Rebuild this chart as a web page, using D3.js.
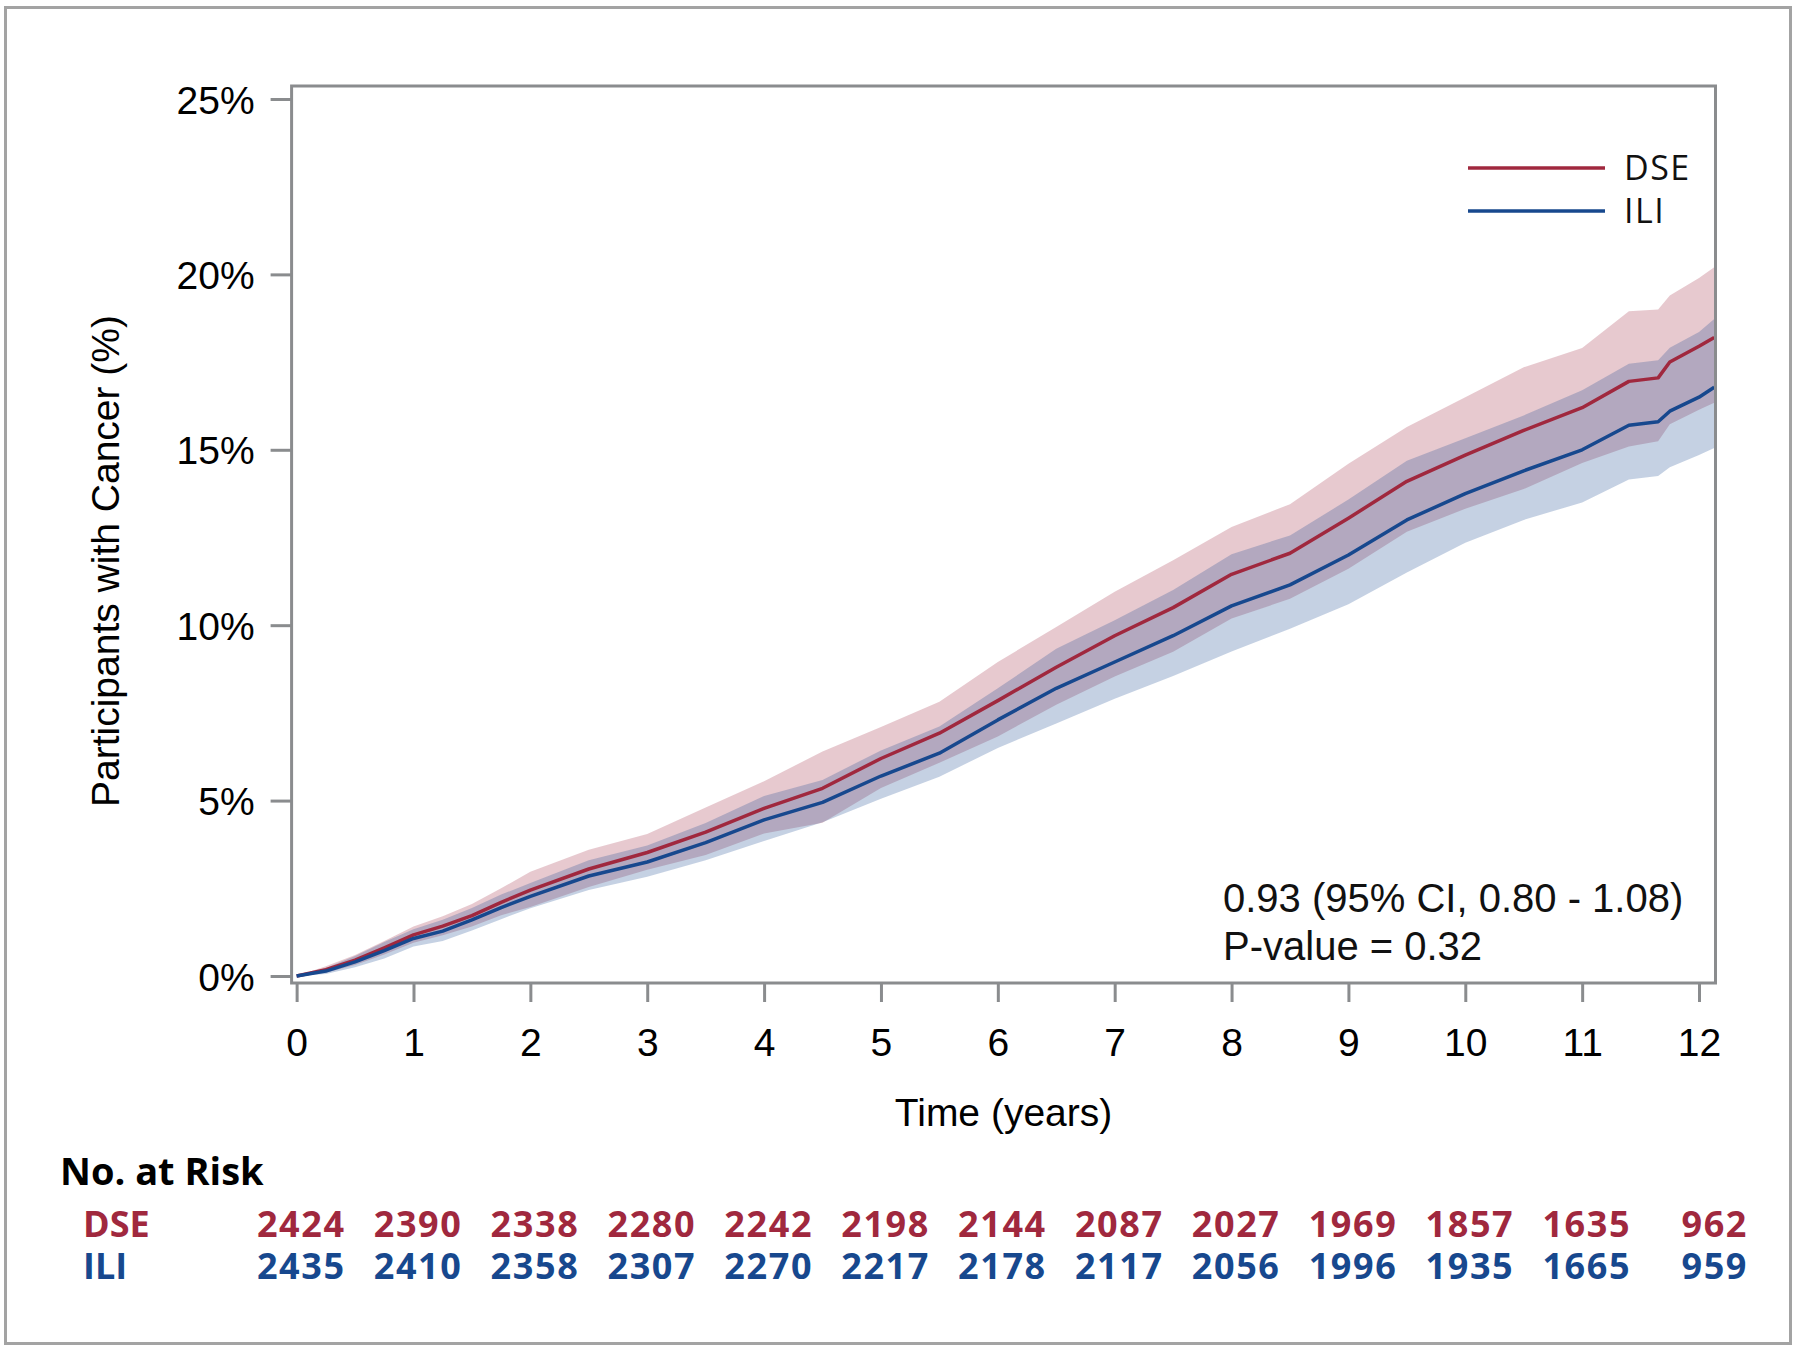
<!DOCTYPE html>
<html>
<head>
<meta charset="utf-8">
<script src="https://cdn.jsdelivr.net/npm/d3@7"></script>
<style>
  html, body { margin: 0; padding: 0; background: #fff; }
  svg { display: block; }
</style>
</head>
<body>
<svg id="chart" width="1800" height="1352"></svg>
<script>
// ---------- data ----------
const times    = [0, 0.25, 0.5, 0.75, 1, 1.25, 1.5, 1.75, 2, 2.5, 3, 3.5, 4, 4.5, 5, 5.5, 6, 6.5, 7, 7.5, 8, 8.5, 9, 9.5, 10, 10.5, 11, 11.4, 11.65, 11.75, 12, 12.13];
const dseEst   = [0, 0.18, 0.45, 0.80, 1.17, 1.42, 1.72, 2.10, 2.45, 3.05, 3.52, 4.10, 4.78, 5.35, 6.20, 6.92, 7.85, 8.80, 9.70, 10.50, 11.45, 12.05, 13.05, 14.10, 14.85, 15.55, 16.20, 16.95, 17.05, 17.50, 17.95, 18.20];
const dseUpper = [0, 0.28, 0.60, 1.00, 1.41, 1.70, 2.05, 2.50, 2.97, 3.60, 4.05, 4.80, 5.55, 6.40, 7.10, 7.82, 8.95, 9.95, 10.95, 11.85, 12.80, 13.45, 14.60, 15.65, 16.50, 17.35, 17.90, 18.95, 19.00, 19.40, 19.90, 20.20];
const dseLower = [0, 0.09, 0.31, 0.61, 0.95, 1.16, 1.41, 1.73, 1.97, 2.54, 3.03, 3.45, 4.06, 4.37, 5.36, 6.08, 6.83, 7.73, 8.54, 9.24, 10.19, 10.75, 11.61, 12.66, 13.32, 13.88, 14.62, 15.09, 15.24, 15.73, 16.14, 16.34];
const iliEst   = [0, 0.14, 0.40, 0.72, 1.07, 1.28, 1.60, 1.95, 2.27, 2.85, 3.25, 3.80, 4.45, 4.95, 5.70, 6.35, 7.30, 8.20, 8.95, 9.70, 10.55, 11.15, 12.00, 13.00, 13.75, 14.40, 15.00, 15.70, 15.80, 16.10, 16.50, 16.78];
const iliUpper = [0, 0.23, 0.57, 0.97, 1.33, 1.60, 1.94, 2.32, 2.65, 3.30, 3.72, 4.36, 5.13, 5.59, 6.43, 7.11, 8.20, 9.33, 10.14, 11.00, 12.02, 12.56, 13.58, 14.69, 15.33, 15.98, 16.70, 17.45, 17.55, 17.91, 18.36, 18.73];
const iliLower = [0, 0.06, 0.25, 0.50, 0.84, 1.00, 1.30, 1.62, 1.93, 2.45, 2.83, 3.30, 3.85, 4.38, 5.05, 5.68, 6.50, 7.20, 7.90, 8.55, 9.25, 9.90, 10.60, 11.50, 12.35, 13.00, 13.50, 14.15, 14.25, 14.50, 14.85, 15.05];

const xTicks = [0, 1, 2, 3, 4, 5, 6, 7, 8, 9, 10, 11, 12];
const yTicks = [0, 5, 10, 15, 20, 25];
const seriesNames = ["DSE", "ILI"];
const riskTimes = [0, 1, 2, 3, 4, 5, 6, 7, 8, 9, 10, 11, 12];
const dseRisk = [2424, 2390, 2338, 2280, 2242, 2198, 2144, 2087, 2027, 1969, 1857, 1635, 962];
const iliRisk = [2435, 2410, 2358, 2307, 2270, 2217, 2178, 2117, 2056, 1996, 1935, 1665, 959];
const annotationLines = ["0.93 (95% CI, 0.80 - 1.08)", "P-value = 0.32"];

// ---------- styling ----------
const RED = "#a0283e", BLUE = "#17488e";
const AX = "#8a8c8e";
const ARIAL = "'Liberation Sans', Arial, sans-serif";
const SANS2 = "'Open Sans', 'Noto Sans', sans-serif";

const svg = d3.select("#chart");

// outer border
svg.append("rect").attr("x", 5.5).attr("y", 7.5).attr("width", 1785).attr("height", 1336)
  .attr("fill", "none").attr("stroke", "#a3a3a3").attr("stroke-width", 3);

const L = 291.6, R = 1715.5, T = 86, B = 983;
const x = d3.scaleLinear().domain([-0.043, 12.141]).range([L, R]);
const y = d3.scaleLinear().domain([-0.2, 25.37]).range([B, T]);

// clip
svg.append("defs").append("clipPath").attr("id", "clip")
  .append("rect").attr("x", L).attr("y", T).attr("width", R - L).attr("height", B - T);

const plot = svg.append("g").attr("clip-path", "url(#clip)");

function bandData(lo, hi) { return times.map((t, i) => ({t, lo: lo[i], hi: hi[i]})); }
function lineData(v) { return times.map((t, i) => ({t, v: v[i]})); }

const area = d3.area().x(d => x(d.t)).y0(d => y(d.lo)).y1(d => y(d.hi));
const line = d3.line().x(d => x(d.t)).y(d => y(d.v));

plot.append("path").datum(bandData(dseLower, dseUpper)).attr("d", area)
  .attr("fill", RED).attr("fill-opacity", 0.25);
plot.append("path").datum(bandData(iliLower, iliUpper)).attr("d", area)
  .attr("fill", BLUE).attr("fill-opacity", 0.25);
plot.append("path").datum(lineData(dseEst)).attr("d", line)
  .attr("fill", "none").attr("stroke", RED).attr("stroke-width", 3.5).attr("stroke-linejoin", "round");
plot.append("path").datum(lineData(iliEst)).attr("d", line)
  .attr("fill", "none").attr("stroke", BLUE).attr("stroke-width", 3.5).attr("stroke-linejoin", "round");

// frame
svg.append("rect").attr("x", L).attr("y", T).attr("width", R - L).attr("height", B - T)
  .attr("fill", "none").attr("stroke", AX).attr("stroke-width", 3);

// x axis
const xAxis = d3.axisBottom(x).tickValues(xTicks).tickSize(19).tickPadding(26).tickFormat(d3.format("d"));
const gx = svg.append("g").attr("transform", `translate(0,${B})`).call(xAxis);
gx.select(".domain").remove();
gx.selectAll(".tick line").attr("stroke", AX).attr("stroke-width", 3);
gx.selectAll(".tick text").attr("font-family", ARIAL).attr("font-size", 39).attr("fill", "#000")
  .attr("dy", "0.71em");

// y axis
const yAxis = d3.axisLeft(y).tickValues(yTicks).tickSize(21).tickPadding(16).tickFormat(d => d + "%");
const gy = svg.append("g").attr("transform", `translate(${L},0)`).call(yAxis);
gy.select(".domain").remove();
gy.selectAll(".tick line").attr("stroke", AX).attr("stroke-width", 3);
gy.selectAll(".tick text").attr("font-family", ARIAL).attr("font-size", 39).attr("fill", "#000")
  .attr("dy", "0.36em");

// axis titles
svg.append("text").attr("x", (L + R) / 2).attr("y", 1126).attr("text-anchor", "middle")
  .attr("font-family", ARIAL).attr("font-size", 39).attr("fill", "#000").text("Time (years)");
svg.append("text").attr("transform", "translate(119,561) rotate(-90)").attr("text-anchor", "middle")
  .attr("font-family", ARIAL).attr("font-size", 39).attr("fill", "#000").text("Participants with Cancer (%)");

// legend
const legendColors = [RED, BLUE];
const legendY = [168, 211];
seriesNames.forEach((n, i) => {
  svg.append("line").attr("x1", 1468).attr("x2", 1605).attr("y1", legendY[i]).attr("y2", legendY[i])
    .attr("stroke", legendColors[i]).attr("stroke-width", 3.5);
  svg.append("text").attr("x", 1624).attr("y", legendY[i] + 12).attr("font-family", SANS2)
    .attr("font-size", 34).attr("letter-spacing", 1.5).attr("fill", "#111").text(n);
});

// annotation
annotationLines.forEach((s, i) => {
  svg.append("text").attr("x", 1223).attr("y", 912 + i * 48).attr("font-family", ARIAL)
    .attr("font-size", 40).attr("fill", "#111").text(s);
});

// number at risk table
svg.append("text").attr("x", 60).attr("y", 1185).attr("font-family", SANS2).attr("font-weight", 700)
  .attr("font-size", 38).attr("fill", "#000").text("No. at Risk");
const riskRows = [dseRisk, iliRisk];
const rowBase = [1237, 1279];
riskRows.forEach((row, r) => {
  svg.append("text").attr("x", 83).attr("y", rowBase[r]).attr("font-family", SANS2).attr("font-weight", 700)
    .attr("font-size", 36).attr("fill", legendColors[r]).text(seriesNames[r]);
  svg.append("g").selectAll("text").data(row).join("text")
    .attr("x", (d, i) => x(riskTimes[i]) + 49).attr("y", rowBase[r])
    .attr("text-anchor", "end").attr("font-family", SANS2).attr("font-weight", 700)
    .attr("font-size", 36).attr("letter-spacing", 1.6).attr("fill", legendColors[r]).text(d => d);
});
</script>
</body>
</html>
